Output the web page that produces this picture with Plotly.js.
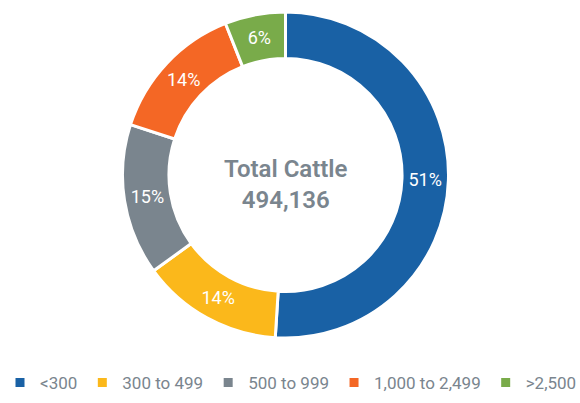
<!DOCTYPE html>
<html>
<head>
<meta charset="utf-8">
<script src="https://cdn.plot.ly/plotly-3.0.1.min.js"></script>
<style>html,body{margin:0;padding:0;background:#fff;}#chart{width:580px;height:403px;}</style>
</head>
<body>
<div id="chart"></div>
<script>
const categories = ["<300", "300 to 499", "500 to 999", "1,000 to 2,499", ">2,500"];
const shares = [51, 14, 15, 14, 6];
const colors = ["#1961a5", "#fbb81b", "#7a858e", "#f46725", "#79ab4a"];
const totalLabel = "Total Cattle";
const totalValue = "494,136";

const W = 580, H = 403;
const cx = 285.5, cy = 175, r = 163;
const FONT = "Roboto, 'Liberation Sans', Arial, sans-serif";

const trace = {
  type: "pie",
  labels: categories,
  values: shares,
  sort: false,
  direction: "clockwise",
  rotation: 0,
  hole: 0.715,
  marker: {colors: colors, line: {color: "#ffffff", width: 3}},
  textinfo: "percent",
  texttemplate: "%{percent:.0%}",
  textposition: "inside",
  insidetextorientation: "horizontal",
  insidetextfont: {color: "#ffffff", size: 18, family: FONT},
  domain: {x: [(cx - r) / W, (cx + r) / W], y: [1 - (cy + r) / H, 1 - (cy - r) / H]},
  hoverinfo: "label+percent"
};

const layout = {
  width: W, height: H,
  margin: {l: 0, r: 0, t: 0, b: 0},
  paper_bgcolor: "#ffffff",
  showlegend: true,
  legend: {
    orientation: "h", x: 0, xanchor: "left", y: 1 - 383 / H, yanchor: "middle",
    font: {size: 17, color: "#7a858e", family: FONT},
    traceorder: "normal"
  },
  annotations: [{
    x: cx / W, y: 1 - 184 / H, xref: "paper", yref: "paper", yanchor: "middle",
    text: totalLabel + "<br>" + totalValue,
    showarrow: false,
    font: {size: 24, color: "#7a858e", family: FONT, weight: 600},
    align: "center"
  }]
};

Plotly.newPlot("chart", [trace], layout, {displayModeBar: false, staticPlot: true});
</script>
</body>
</html>
